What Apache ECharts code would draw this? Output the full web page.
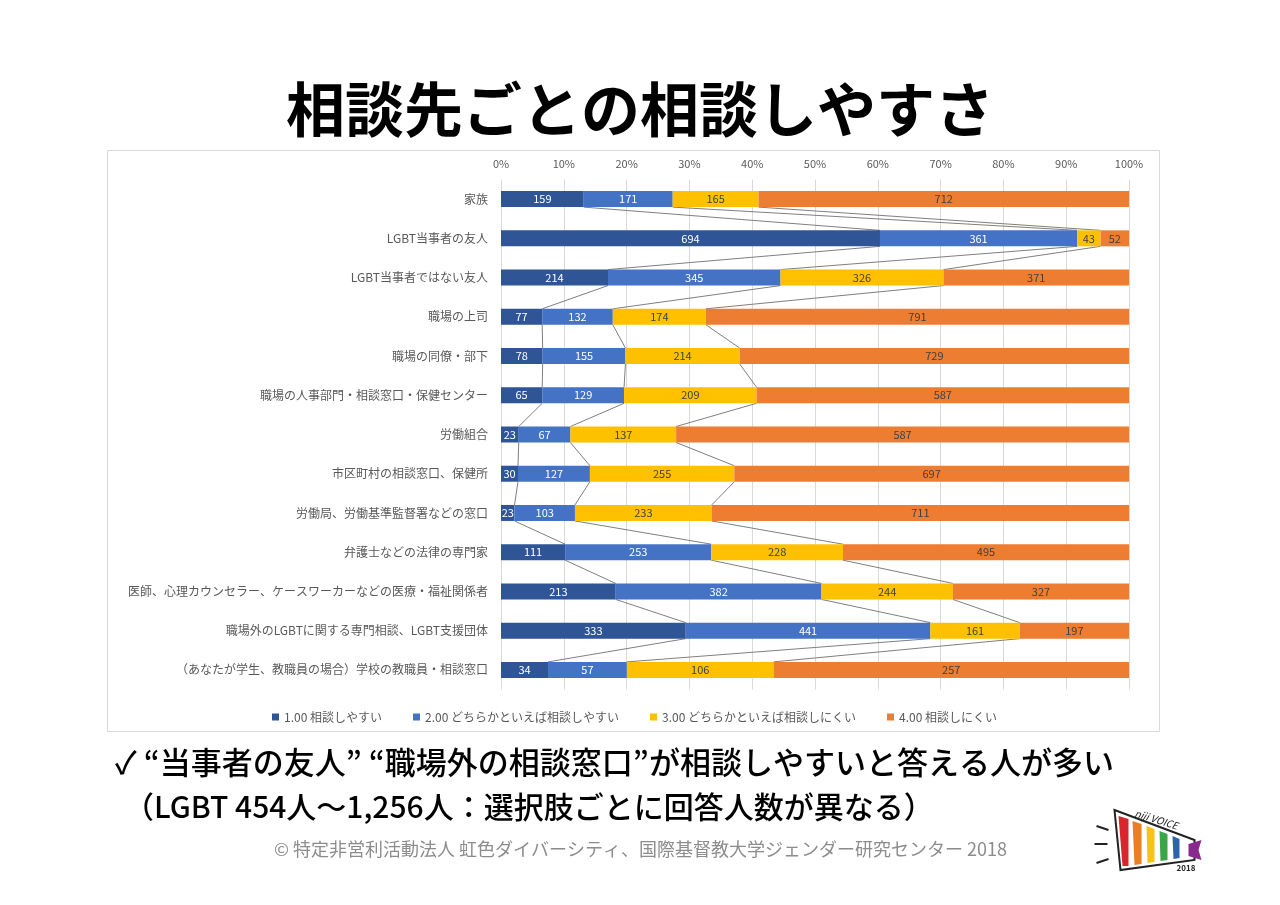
<!DOCTYPE html>
<html lang="ja">
<head>
<meta charset="utf-8">
<title>相談先ごとの相談しやすさ</title>
<script src="https://cdn.jsdelivr.net/npm/echarts@6/dist/echarts.min.js"></script>
<style>
  html, body { margin: 0; padding: 0; background: #fff; }
  #container { width: 1280px; height: 905px; }
</style>
</head>
<body>
<div id="container"></div>
<script>
// 相談先（上から順）
const categories = [
  '家族',
  'LGBT当事者の友人',
  'LGBT当事者ではない友人',
  '職場の上司',
  '職場の同僚・部下',
  '職場の人事部門・相談窓口・保健センター',
  '労働組合',
  '市区町村の相談窓口、保健所',
  '労働局、労働基準監督署などの窓口',
  '弁護士などの法律の専門家',
  '医師、心理カウンセラー、ケースワーカーなどの医療・福祉関係者',
  '職場外のLGBTに関する専門相談、LGBT支援団体',
  '（あなたが学生、教職員の場合）学校の教職員・相談窓口'
];
// 回答人数
const easy = [159, 694, 214, 77, 78, 65, 23, 30, 23, 111, 213, 333, 34];
const ratherEasy = [171, 361, 345, 132, 155, 129, 67, 127, 103, 253, 382, 441, 57];
const ratherHard = [165, 43, 326, 174, 214, 209, 137, 255, 233, 228, 244, 161, 106];
const hard = [712, 52, 371, 791, 729, 587, 587, 697, 711, 495, 327, 197, 257];
// 凡例
const seriesNames = [
  '1.00 相談しやすい',
  '2.00 どちらかといえば相談しやすい',
  '3.00 どちらかといえば相談しにくい',
  '4.00 相談しにくい'
];
const colors = ['#2F5597', '#4472C4', '#FFC000', '#ED7D31'];
const labelColors = ['#ffffff', '#ffffff', '#404040', '#404040'];

const font = '"Noto Sans CJK JP", "Noto Sans", sans-serif';
const barWidth = 16;

// 100%積み上げ用に割合へ変換
const rawSets = [easy, ratherEasy, ratherHard, hard];
const totals = categories.map((c, i) => rawSets.reduce((s, arr) => s + arr[i], 0));
const percentSets = rawSets.map(arr => arr.map((v, i) => v / totals[i] * 100));

// 区分線（系列線）のデータ：各境界の累積割合を次の棒とつなぐ
function buildSeriesLines() {
  const lines = [];
  for (let k = 1; k <= 3; k++) {
    const cum = categories.map((c, i) => {
      let s = 0;
      for (let j = 0; j < k; j++) s += percentSets[j][i];
      return s;
    });
    for (let i = 0; i < categories.length - 1; i++) {
      lines.push([cum[i], i, cum[i + 1], i + 1]);
    }
  }
  return lines;
}

function renderSeriesLine(params, api) {
  const p1 = api.coord([api.value(0), api.value(1)]);
  const p2 = api.coord([api.value(2), api.value(3)]);
  const half = barWidth / 2;
  return {
    type: 'line',
    shape: { x1: p1[0], y1: p1[1] + half, x2: p2[0], y2: p2[1] - half },
    style: { stroke: '#7f7f7f', lineWidth: 1 }
  };
}

const dom = document.getElementById('container');
const myChart = echarts.init(dom);

const barSeries = seriesNames.map((name, k) => ({
  name: name,
  type: 'bar',
  stack: 'total',
  barWidth: barWidth,
  itemStyle: { color: colors[k] },
  label: {
    show: true,
    position: 'inside',
    color: labelColors[k],
    fontSize: 11,
    fontFamily: font,
    formatter: p => rawSets[k][p.dataIndex]
  },
  emphasis: { disabled: true },
  z: 3,
  data: percentSets[k]
}));

const option = {
  animation: false,
  backgroundColor: '#ffffff',
  textStyle: { fontFamily: font },
  grid: { left: 501, right: 151, top: 179.5, bottom: 215.5 },
  legend: {
    data: seriesNames,
    left: 267,
    top: 706,
    icon: 'rect',
    itemWidth: 7,
    itemHeight: 7,
    itemGap: 31,
    textStyle: { fontSize: 12, color: '#595959', fontFamily: font }
  },
  xAxis: {
    type: 'value',
    position: 'top',
    min: 0,
    max: 100,
    interval: 10,
    axisLine: { show: false },
    axisTick: { show: false },
    axisLabel: { formatter: '{value}%', fontSize: 11, color: '#595959', margin: 10 },
    splitLine: { lineStyle: { color: '#d9d9d9' } }
  },
  yAxis: {
    type: 'category',
    inverse: true,
    data: categories,
    axisLine: { show: false },
    axisTick: { show: false },
    axisLabel: { fontSize: 12, color: '#595959', margin: 13 }
  },
  series: barSeries.concat([{
    type: 'custom',
    renderItem: renderSeriesLine,
    encode: { x: [0, 2], y: [1, 3] },
    silent: true,
    z: 2,
    data: buildSeriesLines()
  }]),
  graphic: [
    // グラフ枠
    {
      type: 'rect', z: -10,
      shape: { x: 107.5, y: 150.5, width: 1052, height: 581 },
      style: { fill: 'none', stroke: '#d9d9d9', lineWidth: 1 }
    },
    // タイトル
    {
      type: 'text', left: 'center', top: 80,
      style: { text: '相談先ごとの相談しやすさ', font: 'bold 59px ' + font, fill: '#000' }
    },
    // まとめ
    {
      type: 'text', left: 115, top: 747,
      style: { text: '✓ “当事者の友人” “職場外の相談窓口”が相談しやすいと答える人が多い', font: '500 31px ' + font, fill: '#000' }
    },
    {
      type: 'text', left: 124, top: 792,
      style: { text: '（LGBT 454人～1,256人：選択肢ごとに回答人数が異なる）', font: '500 30px ' + font, fill: '#000' }
    },
    {
      type: 'text', left: 274, top: 840,
      style: { text: '© 特定非営利活動法人 虹色ダイバーシティ、国際基督教大学ジェンダー研究センター 2018', font: '18px ' + font, fill: '#8c8c8c' }
    },
    // ロゴ（簡易）
    {
      type: 'group', left: 1092, top: 808,
      children: [
        { type: 'polygon', shape: { points: [[24, 6], [104, 36], [104, 56], [30, 66]] }, style: { fill: '#fff', stroke: '#222', lineWidth: 2 } },
        { type: 'polygon', shape: { points: [[28, 12], [38, 15], [38, 62], [32, 62]] }, style: { fill: '#d7262d' } },
        { type: 'polygon', shape: { points: [[42, 17], [51, 20], [51, 60], [44, 61]] }, style: { fill: '#ee7d22' } },
        { type: 'polygon', shape: { points: [[56, 22], [64, 25], [64, 58], [57, 59]] }, style: { fill: '#f7c31a' } },
        { type: 'polygon', shape: { points: [[69, 27], [77, 30], [77, 56], [70, 57]] }, style: { fill: '#3aa648' } },
        { type: 'polygon', shape: { points: [[82, 32], [89, 35], [89, 54], [83, 55]] }, style: { fill: '#2d62ad' } },
        { type: 'polygon', shape: { points: [[98, 40], [111, 36], [108, 46], [111, 56], [98, 52]] }, style: { fill: '#8b2a8e' } },
        { type: 'line', shape: { x1: 6, y1: 22, x2: 18, y2: 26 }, style: { stroke: '#222', lineWidth: 2 } },
        { type: 'line', shape: { x1: 4, y1: 40, x2: 17, y2: 40 }, style: { stroke: '#222', lineWidth: 2 } },
        { type: 'line', shape: { x1: 6, y1: 59, x2: 18, y2: 55 }, style: { stroke: '#222', lineWidth: 2 } },
        { type: 'text', x: 46, y: 4, rotation: -0.3, style: { text: 'niji VOICE', font: 'italic 10px ' + font, fill: '#222' } },
        { type: 'text', x: 86, y: 60, style: { text: '2018', font: 'bold 8px ' + font, fill: '#222' } }
      ]
    }
  ]
};

myChart.setOption(option, true);
</script>
</body>
</html>
